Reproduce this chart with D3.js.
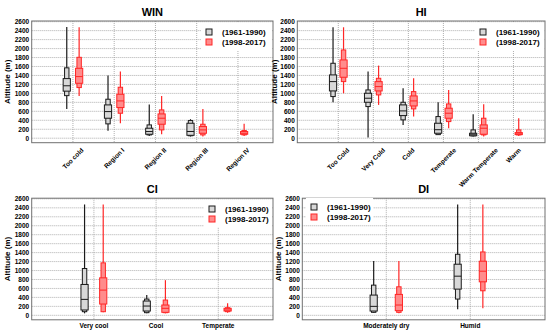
<!DOCTYPE html>
<html>
<head>
<meta charset="utf-8">
<script src="https://cdn.jsdelivr.net/npm/d3@7"></script>
<style>
  body { margin: 0; background: #fff; }
  text { font-family: "Liberation Sans", Arial, sans-serif; font-weight: bold; fill: #000; }
</style>
</head>
<body>
<svg id="chart" width="550" height="334"></svg>
<script>
// each box: [min, p10, p25, median, p75, p90, max]  (null = no data)
const seriesNames = ["(1961-1990)", "(1998-2017)"];
const yTicks = d3.range(0, 2601, 200);

const winCategories = ["Too cold", "Region I", "Region II", "Region III", "Region IV"];
const win6190 = [
  [650, 950, 1050, 1170, 1330, 1570, 2480],
  [165, 320, 446, 594, 743, 870, 1400],
  [52, 74, 89, 149, 223, 297, 750],
  [37, 55, 65, 150, 334, 394, 424],
  null
];
const win9817 = [
  [944, 1130, 1226, 1375, 1560, 1805, 2475],
  [334, 557, 684, 832, 981, 1137, 1490],
  [89, 186, 312, 446, 542, 632, 943],
  [37, 74, 111, 186, 260, 312, 654],
  [52, 74, 89, 111, 149, 171, 320]
];

const hiCategories = ["Too Cold", "Very Cold", "Cold", "Temperate", "Warm Temperate", "Warm"];
const hi6190 = [
  [802, 929, 1055, 1263, 1412, 1672, 2475],
  [15, 706, 802, 892, 1003, 1077, 1486],
  [297, 409, 505, 609, 743, 802, 1114],
  [74, 80, 111, 190, 334, 483, 802],
  [37, 52, 55, 89, 111, 186, 535],
  null
];
const hi9817 = [
  [1003, 1263, 1360, 1560, 1746, 1969, 2475],
  [743, 966, 1055, 1152, 1263, 1337, 1620],
  [483, 654, 720, 832, 943, 1040, 1337],
  [223, 371, 446, 557, 669, 765, 1077],
  [37, 74, 89, 223, 297, 446, 758],
  [52, 74, 80, 97, 126, 186, 446]
];

const ciCategories = ["Very cool", "Cool", "Temperate"];
const ci6190 = [
  [44, 81, 119, 356, 689, 1045, 2475],
  [44, 59, 96, 207, 319, 363, 452],
  null
];
const ci9817 = [
  [67, 81, 252, 563, 837, 1171, 2475],
  [44, 59, 67, 156, 230, 341, 785],
  [59, 81, 96, 119, 156, 170, 267]
];

const diCategories = ["Moderately dry", "Humid"];
const di6190 = [
  [59, 67, 96, 200, 452, 674, 1215],
  [133, 363, 585, 874, 1141, 1363, 2475]
];
const di9817 = [
  [44, 67, 104, 230, 467, 637, 1215],
  [156, 548, 748, 985, 1208, 1415, 2475]
];

const colors = [
  { stroke: "#1a1a1a", fill: "#d8d8d8" },
  { stroke: "#ff2626", fill: "#ff8c8c" }
];

const panels = [
  { title: "WIN", cats: winCategories, data: [win6190, win9817], left: 31.7, right: 273, top: 21, bottom: 142.7,
    padL: 1.0, padR: 0.85, rotate: true, ylabX: 7.5, legend: { x: 201, y: 23, w: 71 } },
  { title: "HI", cats: hiCategories, data: [hi6190, hi9817], left: 297.3, right: 545, top: 21, bottom: 142.7,
    padL: 1.17, padR: 0.9, rotate: true, ylabX: 274, legend: { x: 475, y: 23, w: 69 } },
  { title: "CI", cats: ciCategories, data: [ci6190, ci9817], left: 31.7, right: 273, top: 198.2, bottom: 319.8,
    padL: 1.0, padR: 0.88, rotate: false, ylabX: 7.5, legend: { x: 204, y: 200, w: 68 } },
  { title: "DI", cats: diCategories, data: [di6190, di9817], left: 302.3, right: 545, top: 198.2, bottom: 319.8,
    padL: 1.0, padR: 0.89, rotate: false, ylabX: 278.5, legend: { x: 306, y: 198, w: 67 } }
];

const svg = d3.select("#chart");

panels.forEach(p => {
  const n = p.cats.length;
  const x = d3.scaleLinear().domain([1 - p.padL, n + p.padR]).range([p.left, p.right]);
  const y = d3.scaleLinear().domain([-100, 2615]).range([p.bottom, p.top]);
  const step = x(2) - x(1);
  const off = 0.15 * step;
  const g = svg.append("g");

  // grid
  g.append("g").selectAll("line.h")
    .data(yTicks).enter().append("line")
    .attr("x1", p.left).attr("x2", p.right)
    .attr("y1", d => y(d)).attr("y2", d => y(d))
    .attr("stroke", "#9a9a9a").attr("stroke-width", 0.8).attr("stroke-dasharray", "1,1");
  g.append("g").selectAll("line.v")
    .data(d3.range(1, n + 1)).enter().append("line")
    .attr("x1", d => x(d)).attr("x2", d => x(d))
    .attr("y1", p.top).attr("y2", p.bottom)
    .attr("stroke", "#9a9a9a").attr("stroke-width", 0.8).attr("stroke-dasharray", "1,1");

  // y axis
  const yAxis = g.append("g")
    .attr("transform", `translate(${p.left},0)`)
    .call(d3.axisLeft(y).tickValues(yTicks).tickFormat(d3.format("d")).tickSize(0).tickPadding(2.5));
  yAxis.select(".domain").remove();
  yAxis.selectAll("text").style("font-size", "6.5px").style("font-family", null);

  g.append("text")
    .attr("transform", `translate(${p.ylabX},${(p.top + p.bottom) / 2}) rotate(-90)`)
    .attr("text-anchor", "middle").attr("dy", "0.35em")
    .style("font-size", "8px")
    .text("Altitude (m)");

  // title
  g.append("text")
    .attr("x", (p.left + p.right) / 2).attr("y", p.top - 5.5)
    .attr("text-anchor", "middle")
    .style("font-size", "11px")
    .text(p.title);

  // x labels
  p.cats.forEach((c, i) => {
    const t = g.append("text").style("font-size", "6.5px").text(c);
    if (p.rotate) {
      const len = t.node().getComputedTextLength();
      const half = (len + 6.5) * 0.7071 / 2;
      t.attr("text-anchor", "middle").attr("dy", "0.35em")
        .attr("transform", `translate(${x(i + 1)},${p.bottom + 4 + half}) rotate(-45)`);
    } else {
      t.attr("text-anchor", "middle").attr("x", x(i + 1)).attr("y", p.bottom + 8.5);
    }
  });

  // boxes
  p.data.forEach((series, s) => {
    const col = colors[s];
    series.forEach((b, i) => {
      if (!b) return;
      const cx = x(i + 1) + (s === 0 ? -off : off);
      const bg = g.append("g");
      bg.append("line")
        .attr("x1", cx).attr("x2", cx).attr("y1", y(b[0])).attr("y2", y(b[6]))
        .attr("stroke", col.stroke).attr("stroke-width", 1.2);
      bg.append("rect")
        .attr("x", cx - 2.2).attr("width", 4.4)
        .attr("y", y(b[5])).attr("height", y(b[1]) - y(b[5]))
        .attr("fill", col.fill).attr("stroke", col.stroke).attr("stroke-width", 1);
      bg.append("rect")
        .attr("x", cx - 3.6).attr("width", 7.2)
        .attr("y", y(b[4])).attr("height", y(b[2]) - y(b[4]))
        .attr("fill", col.fill).attr("stroke", col.stroke).attr("stroke-width", 1);
      bg.append("line")
        .attr("x1", cx - 3.6).attr("x2", cx + 3.6).attr("y1", y(b[3])).attr("y2", y(b[3]))
        .attr("stroke", col.stroke).attr("stroke-width", 1);
    });
  });

  // frame
  g.append("rect")
    .attr("x", p.left).attr("y", p.top)
    .attr("width", p.right - p.left).attr("height", p.bottom - p.top)
    .attr("fill", "none").attr("stroke", "#707070").attr("stroke-width", 1);

  // legend
  const L = p.legend;
  const lg = g.append("g");
  lg.append("rect").attr("x", L.x).attr("y", L.y).attr("width", L.w).attr("height", 27).attr("fill", "#fff");
  seriesNames.forEach((name, s) => {
    const cy = L.y + 9 + s * 10;
    lg.append("rect")
      .attr("x", L.x + 5).attr("y", cy - 3).attr("width", 6).attr("height", 6)
      .attr("fill", colors[s].fill).attr("stroke", colors[s].stroke).attr("stroke-width", 1);
    lg.append("text")
      .attr("x", L.x + 21).attr("y", cy).attr("dy", "0.35em")
      .style("font-size", "8px")
      .text(name);
  });
});
</script>
</body>
</html>
